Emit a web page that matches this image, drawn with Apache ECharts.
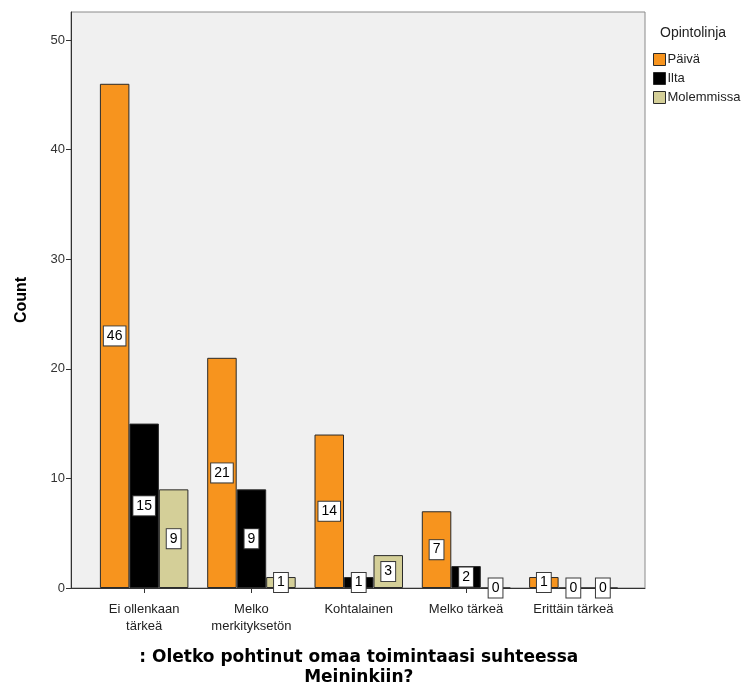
<!DOCTYPE html>
<html>
<head>
<meta charset="utf-8">
<script src="https://cdn.jsdelivr.net/npm/echarts@6/dist/echarts.min.js"></script>
<style>
  html, body { margin: 0; padding: 0; background: #fff; }
  #chart { width: 748px; height: 686px; }
</style>
</head>
<body>
<div id="chart"></div>
<script>
// Answers grouped by study line (Opintolinja)
const categories = ['Ei ollenkaan\ntärkeä', 'Melko\nmerkityksetön', 'Kohtalainen', 'Melko tärkeä', 'Erittäin tärkeä'];
const seriesNames = ['Päivä', 'Ilta', 'Molemmissa'];
const paiva = [46, 21, 14, 7, 1];
const ilta = [15, 9, 1, 2, 0];
const molemmissa = [9, 1, 3, 0, 0];
const yTicks = [0, 10, 20, 30, 40, 50];

const colors = ['#f7941e', '#000000', '#d4cf98'];
const font = 'Arial, "Liberation Sans", sans-serif';
const yMax = 52.55;

const labelStyle = {
  show: true,
  position: 'inside',
  color: '#000',
  fontFamily: font,
  fontSize: 14,
  backgroundColor: '#ffffff',
  borderColor: '#3a3a3a',
  borderWidth: 1,
  padding: [3, 3, 2, 3]
};

function barSeries(name, data, idx) {
  return {
    name: name,
    type: 'bar',
    xAxisIndex: 1,
    yAxisIndex: 1,
    data: data,
    barWidth: 29.5,
    barGap: '0%',
    itemStyle: { color: colors[idx], borderColor: '#2a2a2a', borderWidth: 1 },
    label: labelStyle,
    emphasis: { disabled: true },
    z: 3
  };
}

const chart = echarts.init(document.getElementById('chart'), null, { renderer: 'canvas' });
chart.setOption({
  animation: false,
  backgroundColor: '#ffffff',
  grid: [
    { left: 71, top: 12, right: 103, bottom: 98, outerBoundsMode: 'none', containLabel: false,
      show: true, backgroundColor: '#f0f0f0', borderColor: '#8a8a8a', borderWidth: 1 },
    { left: 90.5, top: 12, right: 121, bottom: 98, outerBoundsMode: 'none', containLabel: false }
  ],
  xAxis: [
    {
      gridIndex: 0, type: 'value', min: 0, max: 1,
      axisLine: { show: true, onZero: false, lineStyle: { color: '#333', width: 1 } },
      axisTick: { show: false }, axisLabel: { show: false }, splitLine: { show: false }
    },
    {
      gridIndex: 1, type: 'category', data: categories,
      axisLine: { show: false },
      axisTick: { show: true, alignWithLabel: true, length: 5, lineStyle: { color: '#333' } },
      axisLabel: { color: '#222', fontFamily: font, fontSize: 13, lineHeight: 17, margin: 13, interval: 0 },
      name: ': Oletko pohtinut omaa toimintaasi suhteessa\nMeininkiin?',
      nameLocation: 'middle',
      nameGap: 60,
      nameTextStyle: { color: '#000', fontFamily: '"DejaVu Sans", Verdana, sans-serif', fontSize: 17, fontWeight: 'bold', lineHeight: 20, verticalAlign: 'top' }
    }
  ],
  yAxis: [
    {
      gridIndex: 0, type: 'value', min: 0, max: yMax, interval: 10,
      axisLine: { show: true, lineStyle: { color: '#333', width: 1 } },
      axisTick: { show: true, length: 5, lineStyle: { color: '#333' } },
      axisLabel: {
        color: '#333', fontFamily: font, fontSize: 13, margin: 6,
        showMaxLabel: false,
        formatter: v => (yTicks.indexOf(v) >= 0 ? String(v) : '')
      },
      splitLine: { show: false },
      name: 'Count',
      nameLocation: 'middle',
      nameGap: 41,
      nameRotate: 90,
      nameTextStyle: { color: '#000', fontFamily: font, fontSize: 16, fontWeight: 'bold' }
    },
    {
      gridIndex: 1, type: 'value', min: 0, max: yMax, show: false
    }
  ],
  legend: {
    data: seriesNames,
    orient: 'vertical',
    left: 648,
    top: 48,
    itemWidth: 12,
    itemHeight: 12,
    itemGap: 6,
    icon: 'rect',
    textStyle: { color: '#222', fontFamily: font, fontSize: 13, padding: [0, 0, 0, -3] },
    itemStyle: { borderColor: '#2a2a2a', borderWidth: 1 },
    selectedMode: false
  },
  title: {
    text: 'Opintolinja',
    left: 655,
    top: 21,
    textStyle: { color: '#222', fontFamily: font, fontSize: 14, fontWeight: 'normal' }
  },
  series: [
    barSeries(seriesNames[0], paiva, 0),
    barSeries(seriesNames[1], ilta, 1),
    barSeries(seriesNames[2], molemmissa, 2)
  ]
});
</script>
</body>
</html>
